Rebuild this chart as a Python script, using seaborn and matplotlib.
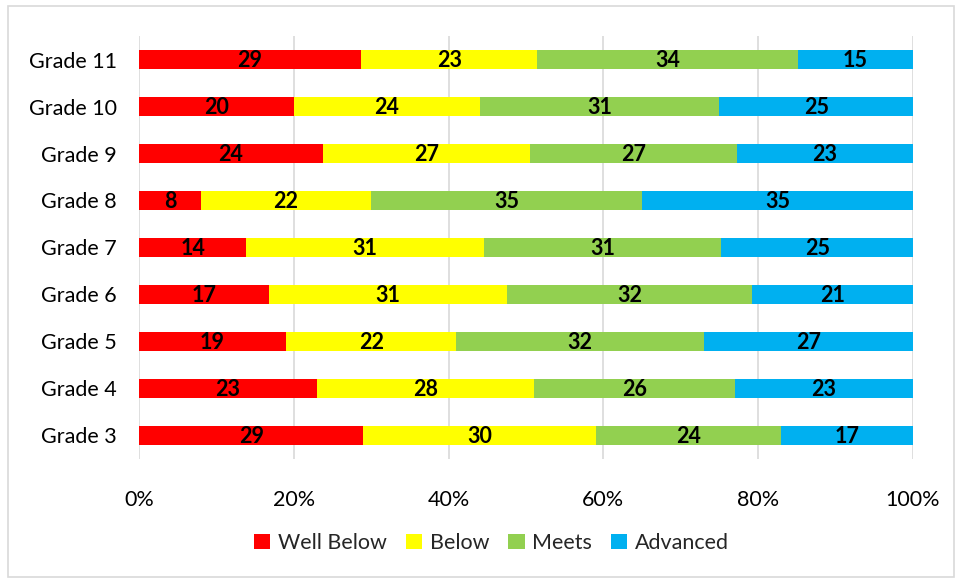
import matplotlib
matplotlib.use("Agg")
import matplotlib.pyplot as plt
import seaborn as sns
import pandas as pd
import numpy as np
from matplotlib.patches import Patch, Rectangle

grades = ["Grade 11", "Grade 10", "Grade 9", "Grade 8", "Grade 7",
          "Grade 6", "Grade 5", "Grade 4", "Grade 3"]
well_below = [29, 20, 24, 8, 14, 17, 19, 23, 29]
below = [23, 24, 27, 22, 31, 31, 22, 28, 30]
meets = [34, 31, 27, 35, 31, 32, 32, 26, 24]
advanced = [15, 25, 23, 35, 25, 21, 27, 23, 17]

series_names = ["Well Below", "Below", "Meets", "Advanced"]
series_vals = [well_below, below, meets, advanced]
colors = ["#FF0000", "#FFFF00", "#92D050", "#00B0F0"]

sns.set_theme(style="white")
plt.rcParams['font.family'] = ['Lato', 'DejaVu Sans']

vals = np.array(series_vals, dtype=float)
totals = vals.sum(axis=0)
pct = vals / totals * 100
cum = np.cumsum(pct, axis=0)

fig = plt.figure(figsize=(9.58, 5.79), dpi=100)
ax = fig.add_axes([0.1451, 0.2073, 0.953 - 0.1451, 0.9378 - 0.2073])

# draw from the last (full) cumulative to the first so stacks overlay correctly
for i in range(len(series_names) - 1, -1, -1):
    df = pd.DataFrame({"grade": grades, "cum": cum[i]})
    sns.barplot(data=df, x="cum", y="grade", orient="h", color=colors[i],
                width=0.4, saturation=1, ax=ax, linewidth=0, zorder=2)

# labels
for i in range(len(series_names)):
    start = cum[i] - pct[i]
    for j, g in enumerate(grades):
        ax.text(start[j] + pct[i][j] / 2, j + 0.03, str(series_vals[i][j]),
                ha="center", va="center", fontsize=15.5, fontweight="bold",
                color="black", zorder=3)

ax.set_xlim(0, 100)
ax.set_ylim(8.5, -0.5)
ax.set_xticks([0, 20, 40, 60, 80, 100])
ax.set_xticklabels([f"{t}%" for t in [0, 20, 40, 60, 80, 100]])
ax.xaxis.grid(True, color="#D9D9D9", linewidth=1.2, zorder=0)
ax.set_axisbelow(True)
for s in ax.spines.values():
    s.set_visible(False)
ax.set_xlabel("")
ax.set_ylabel("")
ax.tick_params(axis="both", length=0, labelsize=15.5, colors="#000000")
ax.tick_params(axis="x", pad=22)
ax.tick_params(axis="y", pad=16)

handles = [Patch(facecolor=c, edgecolor="none", label=n) for c, n in zip(colors, series_names)]
fig.legend(handles=handles, loc="center", bbox_to_anchor=(0.513, 0.062), ncol=4,
           frameon=False, fontsize=15.5, handlelength=0.75, handleheight=0.75,
           handletextpad=0.35, columnspacing=0.9)

fig.patches.append(Rectangle((8 / 958, 0.003), 1 - 8 / 958 - 0.004, 1 - 6 / 579 - 0.003,
                             transform=fig.transFigure, fill=False,
                             edgecolor="#D9D9D9", linewidth=1.2))

fig.savefig("out.png", dpi=100)
